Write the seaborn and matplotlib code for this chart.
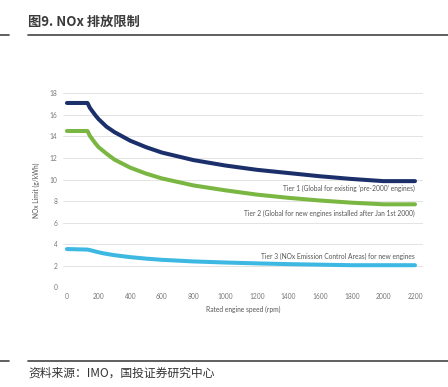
import pandas as pd
import matplotlib.pyplot as plt
import seaborn as sns

# =========================
# DATA
# =========================
rpm = [0, 130, 145, 160, 180, 200, 225, 250, 300, 400, 500, 600, 800, 1000, 1200, 1400, 1600, 1800, 2000, 2200]
tier1 = [17.1, 17.1, 16.65, 16.35, 15.95, 15.6, 15.25, 14.9, 14.4, 13.6, 13.0, 12.5, 11.8, 11.3, 10.9, 10.6, 10.3, 10.05, 9.85, 9.85]
tier2 = [14.5, 14.5, 14.05, 13.75, 13.35, 13.0, 12.7, 12.4, 11.85, 11.1, 10.55, 10.1, 9.45, 9.0, 8.6, 8.3, 8.05, 7.85, 7.7, 7.7]
tier3 = [3.55, 3.5, 3.45, 3.4, 3.32, 3.25, 3.17, 3.1, 2.98, 2.8, 2.66, 2.55, 2.4, 2.3, 2.22, 2.15, 2.1, 2.05, 2.05, 2.05]

tier_labels = [
    "Tier 1 (Global for existing \u2018pre-2000\u2019 engines)",
    "Tier 2 (Global for new engines installed after Jan 1st 2000)",
    "Tier 3 (NOx Emission Control Areas) for new engines",
]
label_y = [9.2, 6.9, 2.9]
colors = ["#1b2f6b", "#7ab642", "#3cb8e2"]

df = pd.DataFrame({"rpm": rpm, "Tier 1": tier1, "Tier 2": tier2, "Tier 3": tier3})
long = df.melt(id_vars="rpm", var_name="tier", value_name="nox")

# =========================
# FIGURE
# =========================
sns.set_style("white")
plt.rcParams['font.family'] = ['Noto Sans CJK SC', 'DejaVu Sans']
chart_font = ['Lato', 'DejaVu Sans']

fig = plt.figure(figsize=(4.48, 3.87), dpi=100)
ax = fig.add_axes([0.1406, 0.2576, 0.8034, 0.5014])

sns.lineplot(data=long, x="rpm", y="nox", hue="tier", palette=colors,
             linewidth=2.9, legend=False, ax=ax)

for txt, yv in zip(tier_labels, label_y):
    ax.text(2200, yv, txt, ha="right", va="center", fontsize=4.8,
            color="#555555", family=chart_font)

ax.set_xlim(-25, 2250)
ax.set_ylim(0, 18)
ax.set_xticks(range(0, 2201, 200))
ax.set_yticks(range(0, 19, 2))
ax.tick_params(labelsize=4.8, colors="#777777", length=0, pad=4)
for lab in ax.get_xticklabels() + ax.get_yticklabels():
    lab.set_family(chart_font)
ax.grid(axis="y", color="#e3e3e3", linewidth=0.7)
ax.set_axisbelow(True)
for s in ax.spines.values():
    s.set_visible(False)
ax.set_xlabel("Rated engine speed (rpm)", fontsize=4.8, color="#555555",
              labelpad=4, family=chart_font)
ax.set_ylabel("NOx Limit (g/kWh)", fontsize=4.8, color="#555555",
              labelpad=7, family=chart_font)

# title and source with rules
fig.text(28 / 448, 1 - 22 / 387, "图9. NOx 排放限制", fontsize=9.5, fontweight="bold",
         color="#3a3a3a", ha="left", va="center")
for yy in [35, 361]:
    fig.add_artist(plt.Line2D([0, 9 / 448], [1 - yy / 387] * 2, color="#444444", lw=1.2))
    fig.add_artist(plt.Line2D([28 / 448, 1], [1 - yy / 387] * 2, color="#444444", lw=1.2))
fig.text(28 / 448, 1 - 373 / 387, "资料来源：IMO，国投证券研究中心", fontsize=8.5,
         style="italic", color="#333333", ha="left", va="center")

fig.savefig("out.png", dpi=100)
